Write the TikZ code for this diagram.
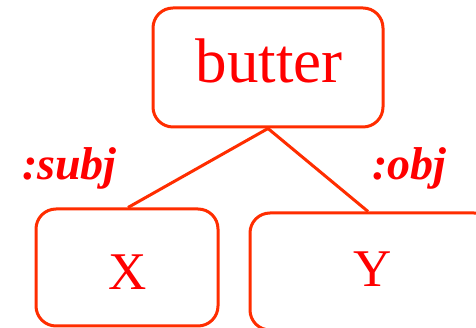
\documentclass[tikz,border=0pt]{standalone}
\usepackage{fontspec}
\setmainfont{Liberation Serif}
\definecolor{boxcol}{RGB}{255,45,0}
\definecolor{txtcol}{RGB}{255,0,0}
\begin{document}
\begin{tikzpicture}[x=1pt,y=1pt,
  box/.style={draw=boxcol,line width=3pt,rounded corners=20pt,inner sep=0pt},
  link/.style={draw=boxcol,line width=3pt},
  word/.style={text=txtcol,anchor=base,inner sep=0pt},
  role/.style={text=txtcol,anchor=base,inner sep=0pt,font=\fontsize{46}{50}\selectfont\bfseries\itshape}]
\useasboundingbox (0,0) rectangle (476,328);
\node[box,minimum width=230pt,minimum height=119pt] (top) at (268,260.5) {};
\node[box,minimum width=182pt,minimum height=117pt] (X) at (127,60.5) {};
\node[box,minimum width=244pt,minimum height=117pt] (Y) at (372,56.5) {};
\node[word,font=\fontsize{63}{70}\selectfont] (tb) at (269,245) {butter};
\node[word,font=\fontsize{53}{60}\selectfont] (tx) at (127.5,38) {X};
\node[word,font=\fontsize{53}{60}\selectfont] (ty) at (372.5,41) {Y};
\node[role] (subj) at (69.5,148) {:subj};
\node[role] (obj) at (409.5,148) {:obj};
\draw[link] (top.south) -- ([xshift=1pt]X.north);
\draw[link] (top.south) -- ([xshift=-4pt]Y.north);
\end{tikzpicture}
\end{document}
